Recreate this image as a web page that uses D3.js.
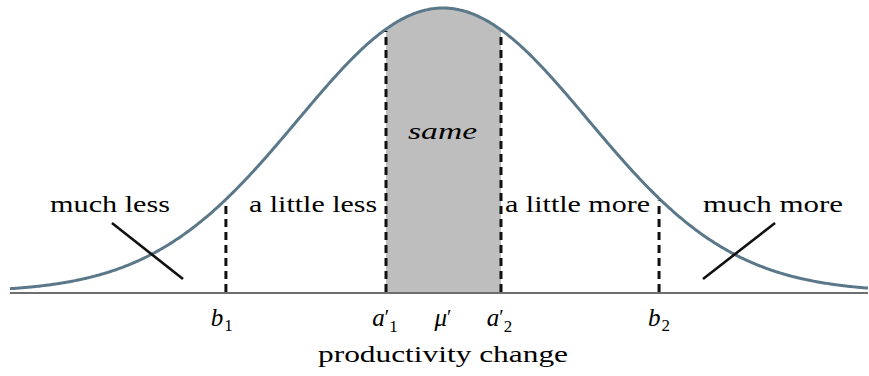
<!DOCTYPE html>
<html><head><meta charset="utf-8">
<script src="https://cdn.jsdelivr.net/npm/d3@7"></script>
<style>
html,body{margin:0;padding:0;background:#fff;}
text{font-family:"Liberation Serif","Times New Roman",Times,"Nimbus Roman",serif;fill:#000;}
</style></head>
<body>
<svg id="chart" width="869" height="376"></svg>
<script>
// ---- data (standardised units: distance from the mean in SDs) ----
const distMean = 0;
const distSD = 1;
const domainX = [-2.986, 2.931];
const cutNames = ["b1", "a1", "a2", "b2"];
const cutValues = [-1.497, -0.393, 0.40, 1.49];
const regionLabels = ["much less", "a little less", "same", "a little more", "much more"];
const regionLabelX = [-2.296, -0.896, -0.003, 0.928, 2.276];
const regionLabelY = [0.112, 0.112, 0.215, 0.112, 0.112];
const regionLabelW = [120, 128, 69, 145, 140];
const tickLabels = [
  {base: "b", prime: false, sub: "1", at: -1.525},
  {base: "a", prime: true,  sub: "1", at: -0.40},
  {base: "μ", prime: true,  sub: "",  at: 0.0},
  {base: "a", prime: true,  sub: "2", at: 0.39},
  {base: "b", prime: false, sub: "2", at: 1.49}
];
const crossMarks = [
  {x1: -2.283, y1: 0.0969, x2: -1.793, y2: 0.0183},
  {x1: 1.793, y1: 0.0183, x2: 2.29, y2: 0.0969}
];
const axisTitle = "productivity change";

// ---- scales ----
const svg = d3.select("#chart");
const x = d3.scaleLinear().domain(domainX).range([10, 868]);
const peak = 1 / (distSD * Math.sqrt(2 * Math.PI));
const y = d3.scaleLinear().domain([0, peak]).range([292, 8]);
const pdf = v => Math.exp(-0.5 * ((v - distMean) / distSD) ** 2) / (distSD * Math.sqrt(2 * Math.PI));

const xs = d3.range(domainX[0], domainX[1], 0.01).concat([domainX[1]]);
const pts = xs.map(v => [v, pdf(v)]);

// shaded "same" region
const a1 = cutValues[1], a2 = cutValues[2];
const shadePts = [[a1, pdf(a1)]].concat(pts.filter(p => p[0] > a1 && p[0] < a2)).concat([[a2, pdf(a2)]]);
svg.append("path")
  .datum(shadePts)
  .attr("d", d3.area().x(d => x(d[0])).y0(y(0)).y1(d => y(d[1])))
  .attr("fill", "#bebebe");

// axis baseline
svg.append("line")
  .attr("x1", x(domainX[0])).attr("x2", x(domainX[1]))
  .attr("y1", y(0) + 1).attr("y2", y(0) + 1)
  .attr("stroke", "#6e6e6e").attr("stroke-width", 2);

// density curve
svg.append("path")
  .datum(pts)
  .attr("d", d3.line().x(d => x(d[0])).y(d => y(d[1])).curve(d3.curveBasis))
  .attr("fill", "none")
  .attr("stroke", "#5a7889")
  .attr("stroke-width", 3);

// dashed cut lines
svg.selectAll(".cut").data(cutValues).enter().append("line")
  .attr("class", "cut")
  .attr("x1", d => x(d)).attr("x2", d => x(d))
  .attr("y1", y(0)).attr("y2", d => y(pdf(d)) + 2)
  .attr("stroke", "#111").attr("stroke-width", 3)
  .attr("stroke-dasharray", "8,5");

// cross marks
svg.selectAll(".cross").data(crossMarks).enter().append("line")
  .attr("x1", d => x(d.x1)).attr("y1", d => y(d.y1))
  .attr("x2", d => x(d.x2)).attr("y2", d => y(d.y2))
  .attr("stroke", "#111").attr("stroke-width", 2.6);

// region labels
svg.selectAll(".rl").data(regionLabels).enter().append("text")
  .attr("x", (d, i) => x(regionLabelX[i]))
  .attr("y", (d, i) => y(regionLabelY[i]))
  .attr("text-anchor", "middle")
  .attr("font-size", 24)
  .attr("font-style", (d, i) => i === 2 ? "italic" : "normal")
  .attr("textLength", (d, i) => regionLabelW[i])
  .attr("lengthAdjust", "spacingAndGlyphs")
  .text(d => d);

// tick labels
tickLabels.forEach(t => {
  const g = svg.append("text")
    .attr("x", x(t.at)).attr("y", 326)
    .attr("text-anchor", "middle")
    .attr("font-size", 25);
  g.append("tspan").attr("font-style", "italic").text(t.base);
  if (t.prime) {
    g.append("tspan").attr("font-size", 20).attr("dy", -2).attr("dx", 0).text("′");
    if (t.sub) g.append("tspan").attr("font-size", 17).attr("dx", 0).attr("dy", 8).text(t.sub);
  } else if (t.sub) {
    g.append("tspan").attr("font-size", 17).attr("dx", 1).attr("dy", 5).text(t.sub);
  }
});

// axis title
svg.append("text")
  .attr("x", 443).attr("y", 362)
  .attr("text-anchor", "middle")
  .attr("font-size", 24)
  .attr("textLength", 250)
  .attr("lengthAdjust", "spacingAndGlyphs")
  .text(axisTitle);
</script>
</body></html>
